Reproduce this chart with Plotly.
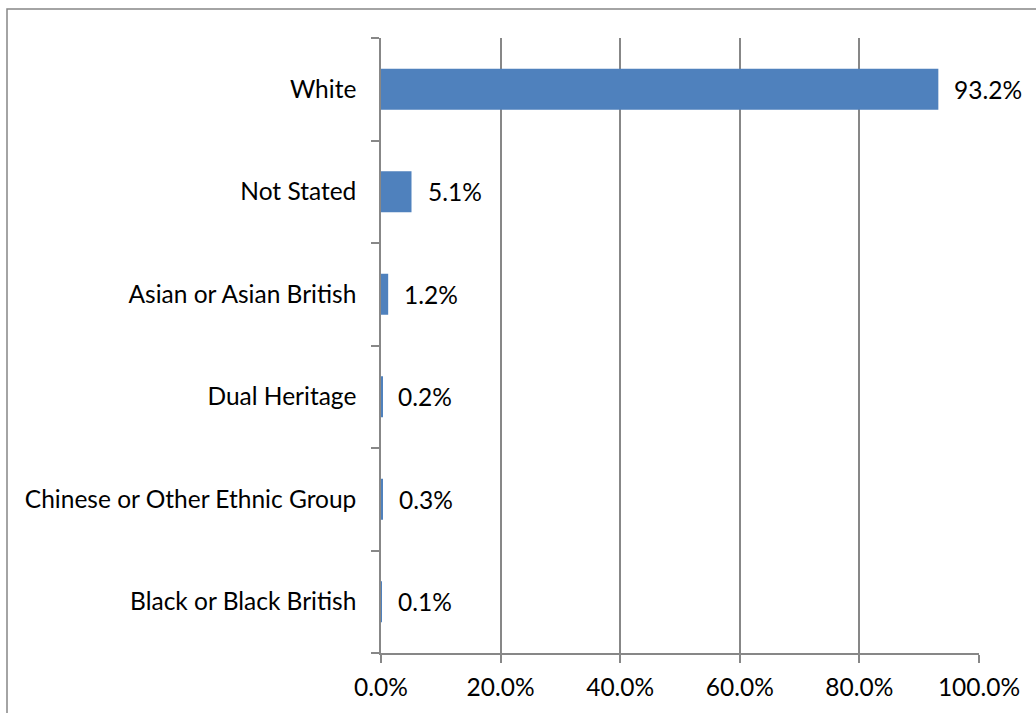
import plotly.graph_objects as go

# Ethnic group breakdown (% of total)
categories = [
    "White",
    "Not Stated",
    "Asian or Asian British",
    "Dual Heritage",
    "Chinese or Other Ethnic Group",
    "Black or Black British",
]
values = [93.2, 5.1, 1.2, 0.2, 0.3, 0.1]
tick_values = [0, 20, 40, 60, 80, 100]
tick_labels = ["0.0%", "20.0%", "40.0%", "60.0%", "80.0%", "100.0%"]

BAR = "#4F81BD"
GRID = "#878787"
FONT = dict(family="Lato, Calibri, Carlito, sans-serif", size=24.5, color="#000000")

W, H = 1036, 713
L, R, T, B = 381, 57, 38, 58
pw, ph = W - L - R, H - T - B

fig = go.Figure(
    go.Bar(
        x=values,
        y=categories,
        orientation="h",
        width=0.4,
        marker=dict(color=BAR, line=dict(width=0)),
        hoverinfo="skip",
    )
)

# value labels just past the end of each bar
for cat, v in zip(categories, values):
    fig.add_annotation(
        x=v, y=cat, text=f"{v:.1f}%", showarrow=False,
        xanchor="left", yanchor="middle", xshift=14, font=FONT,
    )

# outer chart frame
fig.add_shape(
    type="rect", xref="paper", yref="paper",
    x0=(7 - L) / pw, x1=(W + 10 - L) / pw,
    y0=-(H + 10 - (T + ph)) / ph, y1=(T + ph - 9) / ph,
    line=dict(color=GRID, width=1.5), fillcolor="rgba(0,0,0,0)", layer="below",
)

fig.update_layout(
    width=W, height=H,
    margin=dict(l=L, r=R, t=T, b=B, pad=0),
    paper_bgcolor="white", plot_bgcolor="white",
    showlegend=False,
    font=FONT,
    xaxis=dict(
        range=[0, 100], tickvals=tick_values, ticktext=tick_labels,
        showgrid=True, gridcolor=GRID, gridwidth=1.5,
        zeroline=False, showline=True, linecolor=GRID, linewidth=1.5,
        ticks="outside", ticklen=8, tickcolor=GRID, tickwidth=1.5,
        ticklabelstandoff=4,
        tickfont=FONT, fixedrange=True,
    ),
    yaxis=dict(
        categoryorder="array", categoryarray=categories[::-1],
        showgrid=False, zeroline=False,
        showline=True, linecolor=GRID, linewidth=1.5,
        ticks="outside", ticklen=8, tickcolor=GRID, tickwidth=1.5,
        tickson="boundaries", ticklabelstandoff=18,
        tickfont=FONT, fixedrange=True,
    ),
)

fig.write_html("out.html", config={"displayModeBar": False})
